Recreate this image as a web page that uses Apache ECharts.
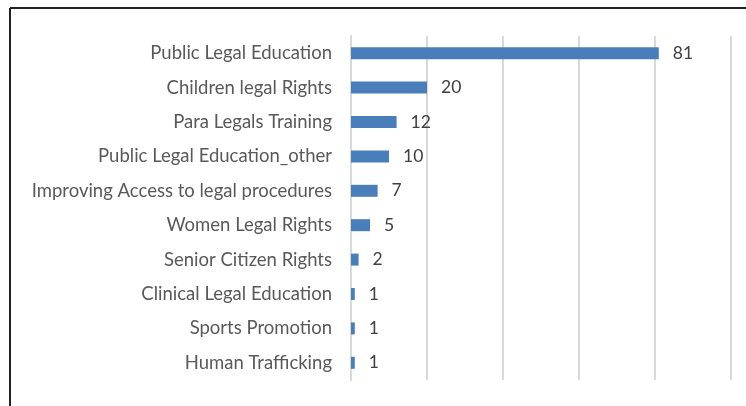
<!DOCTYPE html>
<html>
<head>
<meta charset="utf-8">
<script src="https://cdn.jsdelivr.net/npm/echarts@6/dist/echarts.min.js"></script>
<style>
html,body{margin:0;padding:0;background:#fff;}
#chart{width:746px;height:406px;}
</style>
</head>
<body>
<div id="chart"></div>
<script>
const categories = [
  "Public Legal Education",
  "Children legal Rights",
  "Para Legals Training",
  "Public Legal Education_other",
  "Improving Access to legal procedures",
  "Women Legal Rights",
  "Senior Citizen Rights",
  "Clinical Legal Education",
  "Sports Promotion",
  "Human Trafficking"
];
const values = [81, 20, 12, 10, 7, 5, 2, 1, 1, 1];

const chart = echarts.init(document.getElementById('chart'), null, {renderer: 'canvas'});
chart.setOption({
  animation: false,
  backgroundColor: '#ffffff',
  textStyle: {fontFamily: 'Lato'},
  grid: {left: 351, right: 15, top: 36, bottom: 26, containLabel: false},
  graphic: [
    {type: 'line', shape: {x1: 10, y1: 8, x2: 746, y2: 8}, style: {stroke: '#222', lineWidth: 2}},
    {type: 'line', shape: {x1: 10, y1: 8, x2: 10, y2: 406}, style: {stroke: '#222', lineWidth: 2}}
  ],
  xAxis: {
    type: 'value',
    min: 0, max: 100, interval: 20,
    axisLabel: {show: false},
    axisLine: {show: false},
    axisTick: {show: false},
    splitLine: {show: true, lineStyle: {color: '#d9d9d9', width: 2}}
  },
  yAxis: {
    type: 'category',
    data: categories,
    inverse: true,
    axisLine: {show: true, lineStyle: {color: '#d9d9d9', width: 2}},
    axisTick: {show: false},
    axisLabel: {color: '#595959', fontSize: 18.5, margin: 19, fontFamily: 'Lato'}
  },
  series: [{
    type: 'bar',
    data: values,
    barWidth: 12,
    itemStyle: {color: '#4a7ebb'},
    label: {show: true, position: 'right', distance: 14, color: '#404040', fontSize: 17.5, fontFamily: 'Lato'}
  }]
});
</script>
</body>
</html>
